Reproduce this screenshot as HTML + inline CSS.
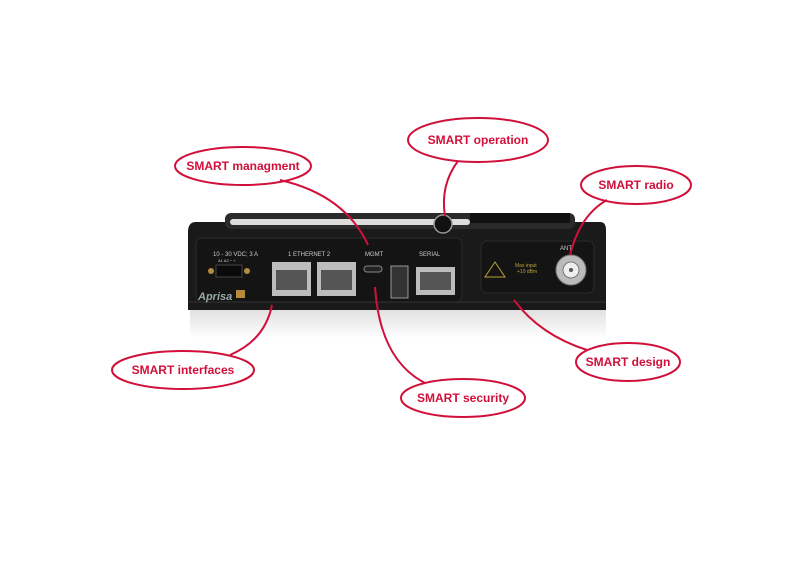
<!DOCTYPE html>
<html><head><style>
html,body{margin:0;padding:0;background:#fff;width:794px;height:575px;overflow:hidden}
svg{display:block}
text{font-family:"Liberation Sans",sans-serif;font-weight:bold;fill:#d0103a;font-size:12px}
.w{font-family:"Liberation Sans",sans-serif;font-weight:normal;fill:#ccc;font-size:6px}
</style></head><body>
<svg width="794" height="575" viewBox="0 0 794 575">
<defs>
<linearGradient id="refl" x1="0" y1="0" x2="0" y2="1"><stop offset="0" stop-color="#ccc"/><stop offset="1" stop-color="#fff"/></linearGradient>
</defs>
<!-- reflection -->
<rect x="190" y="310" width="416" height="28" fill="url(#refl)" opacity="0.6"/>
<!-- device body -->
<path d="M196 222 L600 222 Q606 222 606 230 L606 310 L188 310 L188 232 Q188 222 196 222Z" fill="#1a1a1a"/>
<rect x="225" y="213" width="350" height="16" rx="6" fill="#2a2a2a"/>
<rect x="230" y="219" width="240" height="6" rx="3" fill="#dcdcdc"/>
<circle cx="443" cy="224" r="9" fill="#111" stroke="#999" stroke-width="1.5"/>
<rect x="470" y="213" width="100" height="10" fill="#111"/>
<rect x="196" y="238" width="266" height="64" rx="6" fill="#141414" stroke="#2b2b2b"/>
<rect x="481" y="241" width="113" height="52" rx="6" fill="#141414" stroke="#2b2b2b"/>
<line x1="188" y1="302" x2="606" y2="302" stroke="#333"/>
<!-- labels on device -->
<text class="w" x="213" y="256">10 - 30 VDC; 3 A</text>
<text class="w" x="218" y="262" style="font-size:4px">A1   A2   −   +</text>
<text class="w" x="288" y="256">1   ETHERNET   2</text>
<text class="w" x="365" y="256">MGMT</text>
<text class="w" x="419" y="256">SERIAL</text>
<text class="w" x="560" y="250">ANT</text>
<text x="198" y="300" style="font-size:11px;fill:#9aa;font-style:italic">Aprisa</text>
<rect x="236" y="290" width="9" height="8" fill="#b78a3a"/>
<!-- terminal block -->
<circle cx="211" cy="271" r="3" fill="#b38d3b"/>
<rect x="216" y="265" width="26" height="12" fill="#0a0a0a" stroke="#444"/>
<circle cx="247" cy="271" r="3" fill="#b38d3b"/>
<!-- ethernet ports -->
<rect x="272" y="262" width="39" height="34" fill="#bcbcbc"/><rect x="276" y="270" width="31" height="20" fill="#555"/>
<rect x="317" y="262" width="39" height="34" fill="#bcbcbc"/><rect x="321" y="270" width="31" height="20" fill="#555"/>
<rect x="364" y="266" width="18" height="6" rx="3" fill="#222" stroke="#888"/>
<rect x="391" y="266" width="17" height="32" fill="#333" stroke="#999"/>
<rect x="416" y="267" width="39" height="28" fill="#bcbcbc"/><rect x="420" y="272" width="31" height="18" fill="#555"/>
<path d="M495 262 L505 277 L485 277Z" fill="none" stroke="#b8a33a"/>
<text x="515" y="267" style="font-size:5px;fill:#b8a33a;font-weight:normal">Max input</text>
<text x="517" y="273" style="font-size:5px;fill:#b8a33a;font-weight:normal">+10 dBm</text>
<circle cx="571" cy="270" r="15" fill="#bbb" stroke="#777"/>
<circle cx="571" cy="270" r="8" fill="#eee" stroke="#777"/>
<circle cx="571" cy="270" r="2" fill="#555"/>
<!-- connectors -->
<g fill="none" stroke="#d0103a" stroke-width="2">
<path d="M458 161 Q440 185 445 216"/>
<path d="M280 180 Q345 195 368 245"/>
<path d="M607 200 Q580 215 570 255"/>
<path d="M230 355 Q265 340 272 305"/>
<path d="M425 383 Q380 360 375 287"/>
<path d="M587 350 Q540 335 514 300"/>
<ellipse cx="478" cy="140" rx="70" ry="22"/>
<ellipse cx="243" cy="166" rx="68" ry="19"/>
<ellipse cx="636" cy="185" rx="55" ry="19"/>
<ellipse cx="183" cy="370" rx="71" ry="19"/>
<ellipse cx="463" cy="398" rx="62" ry="19"/>
<ellipse cx="628" cy="362" rx="52" ry="19"/>
</g>
<text x="478" y="144" text-anchor="middle">SMART operation</text>
<text x="243" y="170" text-anchor="middle">SMART managment</text>
<text x="636" y="189" text-anchor="middle">SMART radio</text>
<text x="183" y="374" text-anchor="middle">SMART interfaces</text>
<text x="463" y="402" text-anchor="middle">SMART security</text>
<text x="628" y="366" text-anchor="middle">SMART design</text>
</svg>
</body></html>
